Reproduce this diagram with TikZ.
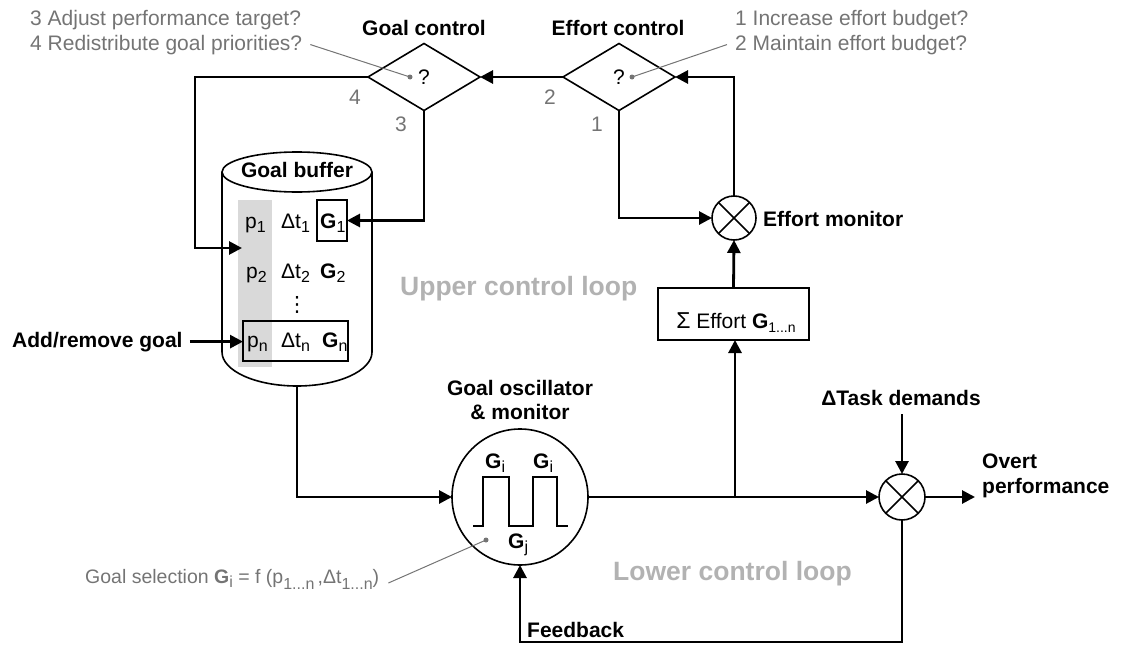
\documentclass[tikz,border=0pt]{standalone}
\usepackage{fontspec}
\setmainfont{Liberation Sans}
\newfontfamily\dejavu{DejaVu Sans}
\usetikzlibrary{arrows.meta,shapes.geometric}
\definecolor{lab}{HTML}{747474}
\definecolor{loopc}{HTML}{B2B2B2}
\definecolor{colc}{HTML}{D9D9D9}
\newcommand\dn[1]{\raisebox{-4pt}{\fontsize{16}{16}\selectfont\mdseries #1}}
\newcommand\dnn[1]{\raisebox{-6pt}{\fontsize{16}{16}\selectfont\mdseries #1}}
\begin{document}
\begin{tikzpicture}[x=1pt,y=-1pt,
  every node/.style={font=\fontsize{21}{25}\selectfont, inner sep=0pt},
  conn/.style={line width=2.8pt},
  arr/.style={conn,-{Triangle[length=13pt,width=13pt]}},
  shp/.style={draw,line width=1.6pt,outer sep=0pt},
  lbl/.style={text=lab},
  ttl/.style={font=\fontsize{21}{25}\selectfont\bfseries},
  looplbl/.style={text=loopc,font=\fontsize{26.5}{30}\selectfont\bfseries},
  thin/.style={draw=lab,line width=1pt},
  dotc/.style={fill=lab}]
\useasboundingbox (0,0) rectangle (1130,645);

% ---- top labels
\node[lbl,anchor=base west] (l3) at (30,25) {3 Adjust performance target?};
\node[lbl,anchor=base west] (l4) at (30,50) {4 Redistribute goal priorities?};
\node[lbl,anchor=base west] (l1) at (735,25) {1 Increase effort budget?};
\node[lbl,anchor=base west] (l2) at (735,50) {2 Maintain effort budget?};
\node[ttl,anchor=base] (gct) at (424,35) {Goal control};
\node[ttl,anchor=base] (ect) at (618,35) {Effort control};

% ---- diamonds
\node[shp,diamond,minimum width=112pt,minimum height=67pt] (gc) at (424,77) {?};
\node[shp,diamond,minimum width=112pt,minimum height=67pt] (ec) at (619,77) {?};
\fill[dotc] (410,77) circle[radius=2.5pt];
\fill[dotc] (632,77) circle[radius=2.5pt];
\draw[thin] ([xshift=8pt]l4.east) -- (410,77);
\draw[thin] ([xshift=-8pt]l2.west) -- (632,77);
\node[lbl,anchor=base] at (355,104) {4};
\node[lbl,anchor=base] at (401,131) {3};
\node[lbl,anchor=base] at (550,104) {2};
\node[lbl,anchor=base] at (597,131) {1};

% ---- goal buffer
\fill[colc] (238,200) rectangle (272,367);
\draw[shp] (222,172) -- (222,352) arc[start angle=180,end angle=360,x radius=75pt,y radius=34pt] -- (372,172);
\draw[shp] (297,172) ellipse[x radius=75pt,y radius=20pt];
\node[ttl,anchor=base] (gb) at (297,177) {Goal buffer};
\coordinate (gbb) at (297,386);

\node[shp,minimum width=30pt,minimum height=41pt] (g1) at (332,220.5) {};
\node[shp,minimum width=105pt,minimum height=40pt] (pn) at (295.5,341) {};
\node[anchor=base west] at (245,228) {p\dn{1}};
\node[anchor=base west] at (281,228) {Δt\dn{1}};
\node[anchor=base west] at (320,228) {\textbf{G}\dn{1}};
\node[anchor=base west] at (246,278) {p\dn{2}};
\node[anchor=base west] at (281,278) {Δt\dn{2}};
\node[anchor=base west] at (320,278) {\textbf{G}\dn{2}};
\node at (297,305) {\dejavu ⋮};
\node[anchor=base west] at (247,347) {p\dn{n}};
\node[anchor=base west] at (281,347) {Δt\dn{n}};
\node[anchor=base west] at (322,347) {\textbf{G}\dn{n}};
\coordinate (p1in) at (242,248);

\node[ttl,anchor=base west] (add) at (12,347) {Add/remove goal};

% ---- oscillator
\node[shp,circle,minimum size=136pt] (osc) at (520,497) {};
\node[ttl,anchor=base] at (520,395) {Goal oscillator};
\node[ttl,anchor=base] at (520,419) {\& monitor};
\draw[line width=2.2pt] (473,526) -- (483,526) -- (483,477) -- (509,477) -- (509,526) -- (533,526) -- (533,477) -- (557,477) -- (557,526) -- (568,526);
\node[anchor=base west] at (485,468) {\textbf{G}\dn{i}};
\node[anchor=base west] at (533,468) {\textbf{G}\dn{i}};
\node[anchor=base west] at (508,548) {\textbf{G}\dn{j}};
\fill[dotc] (486,540) circle[radius=2.5pt];
\node[lbl,anchor=base west,font=\fontsize{19.5}{23}\selectfont] (gs) at (85,583)
  {Goal selection \textbf{G}\dn{i} = f (p\dnn{1...n}\,,Δt\dnn{1...n})};
\draw[thin] ([xshift=9pt]gs.base east) -- (486,540);

% ---- effort path
\node[shp,minimum width=151pt,minimum height=52pt] (sig) at (733.5,314) {};
\node[anchor=base] at (736,328) {{\fontsize{23}{23}\selectfont Σ} Effort \textbf{G}{\fontsize{14}{14}\selectfont\raisebox{-4pt}{1...n}}};
\node[shp,circle,minimum size=44pt] (em) at (734,218) {};
\draw[shp] (em.center) +(45:22pt) -- +(225:22pt);
\draw[shp] (em.center) +(135:22pt) -- +(315:22pt);
\node[ttl,anchor=base west] at (763,226) {Effort monitor};

% ---- multiplier
\node[shp,circle,minimum size=46pt] (mu) at (902,497) {};
\draw[shp] (mu.center) +(45:23pt) -- +(225:23pt);
\draw[shp] (mu.center) +(135:23pt) -- +(315:23pt);
\node[ttl,anchor=base] (td) at (901,405) {ΔTask demands};
\node[ttl,anchor=base west,align=left] (ov) at (982,493) {Overt\\performance};
\node[ttl,anchor=base west] (fb) at (527,637) {Feedback};
\coordinate (br) at (735,497);

% ---- loop labels
\node[looplbl,anchor=base west] at (400,295) {Upper control loop};
\node[looplbl,anchor=base west] at (613,580) {Lower control loop};

% ---- connectors
\draw[arr] (ec.west) -- (gc.east);
\draw[arr] (gc.west) -| (195,248) -- (p1in);
\draw[arr] (gc.south) |- (g1.east);
\draw[arr] (add.east) ++(7,0) coordinate (a0) -- (a0 -| pn.west);
\draw[arr] (gbb) |- (osc.west);
\draw[arr] (osc.east) -- (mu.west);
\draw[arr] (br) -- (br |- sig.south);
\draw[arr] (sig.north) -- (em.south);
\draw[arr] (ec.south) |- (em.west);
\draw[arr] (em.north) |- (ec.east);
\draw[arr] (mu.north) ++(0,-60) -- (mu.north);
\draw[arr] (mu.east) -- ++(50,0);
\draw[arr] (mu.south) -- (902,642) -| (osc.south);
\end{tikzpicture}
\end{document}
